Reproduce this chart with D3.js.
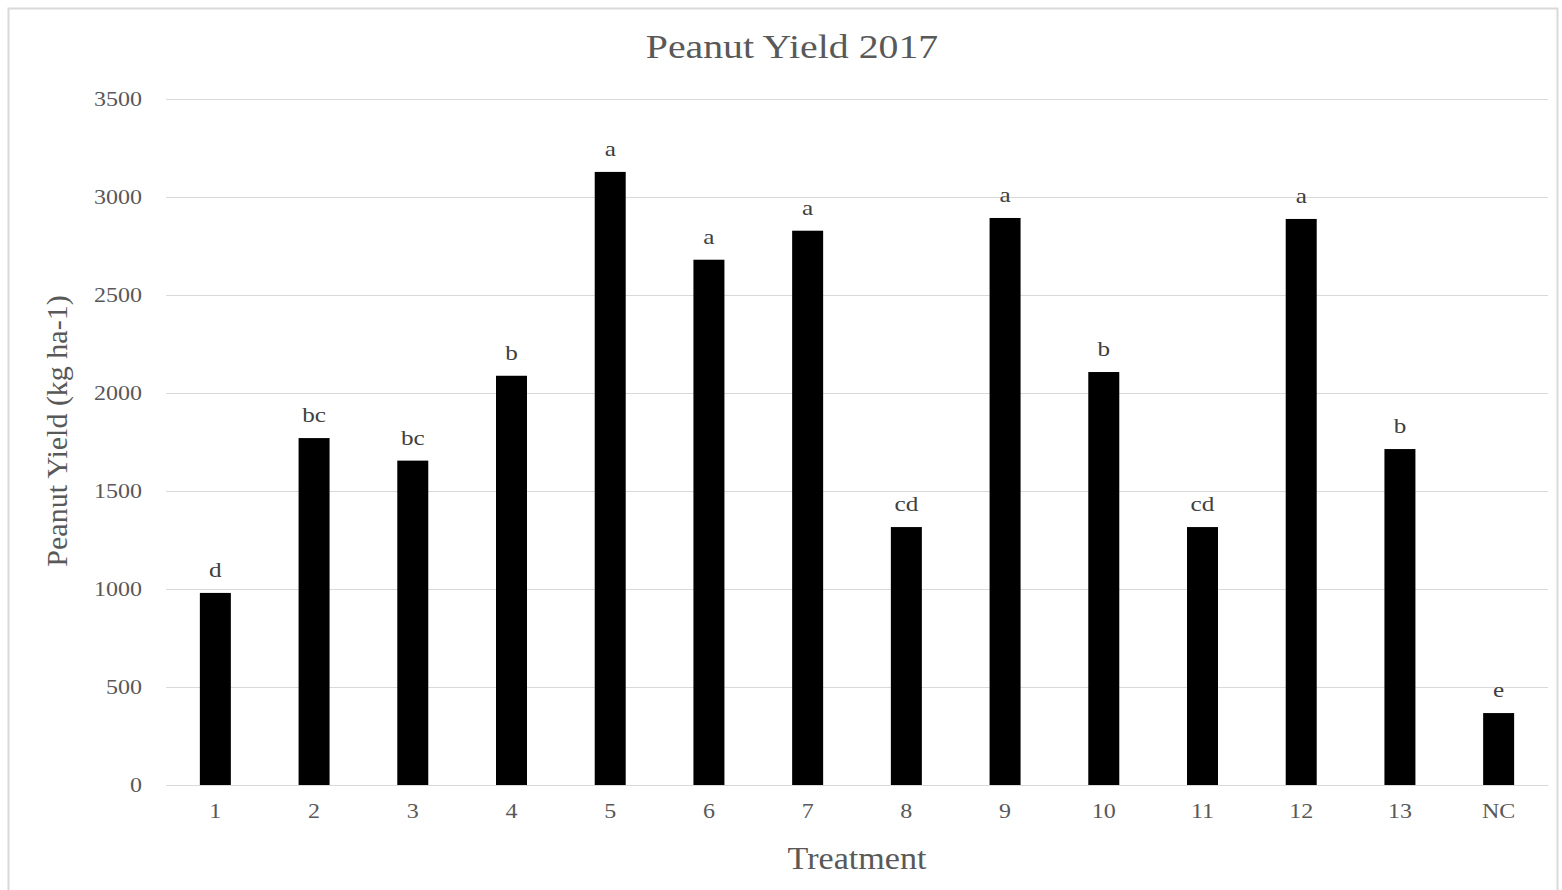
<!DOCTYPE html>
<html>
<head>
<meta charset="utf-8">
<script src="https://cdn.jsdelivr.net/npm/d3@7"></script>
<style>
  html, body { margin: 0; padding: 0; background: #fff; }
  svg { display: block; }
  text { font-family: "Liberation Serif", "Times New Roman", serif; }
</style>
</head>
<body>
<svg id="chart" width="1562" height="890"></svg>
<script>
// Peanut yield by treatment, 2017 (kg ha-1) with mean-separation letters
const treatments = ["1","2","3","4","5","6","7","8","9","10","11","12","13","NC"];
const yields     = [980, 1770, 1655, 2088, 3128, 2680, 2828, 1316, 2893, 2107, 1316, 2888, 1714, 367];
const letters    = ["d","bc","bc","b","a","a","a","cd","a","b","cd","a","b","e"];
const yTicks     = [0, 500, 1000, 1500, 2000, 2500, 3000, 3500];

const svg = d3.select("#chart");
const plot = { left: 166, right: 1548, top: 99, bottom: 785 };
const wide = 1.2;   // horizontal stretch of the serif lettering

// chart frame
svg.append("rect")
  .attr("x", 8.5).attr("y", 8.5)
  .attr("width", 1549).attr("height", 900)
  .attr("fill", "#fff")
  .attr("stroke", "#d9d9d9").attr("stroke-width", 2);

const x = d3.scaleBand()
  .domain(treatments)
  .range([plot.left, plot.right])
  .paddingInner(0.686)
  .paddingOuter(0.343);

const y = d3.scaleLinear()
  .domain([0, 3500])
  .range([plot.bottom, plot.top]);

// gridlines + y tick labels
const yAxis = d3.axisLeft(y)
  .tickValues(yTicks)
  .tickSize(-(plot.right - plot.left))
  .tickFormat(d3.format("d"));

const gy = svg.append("g")
  .attr("transform", `translate(${plot.left},0)`)
  .call(yAxis);
gy.select(".domain").remove();
gy.selectAll(".tick line").attr("stroke", "#d9d9d9").attr("stroke-width", 1);
gy.selectAll(".tick text")
  .attr("x", -24 / wide)
  .attr("transform", `scale(${wide},1)`)
  .attr("fill", "#595959")
  .style("font-size", "20px")
  .style("font-family", "'Liberation Serif', serif");

// x axis labels
const xAxis = d3.axisBottom(x).tickSize(0).tickPadding(19);
const gx = svg.append("g")
  .attr("transform", `translate(0,${plot.bottom})`)
  .call(xAxis);
gx.select(".domain").attr("stroke", "#d9d9d9");
gx.selectAll(".tick text")
  .attr("transform", `scale(${wide},1)`)
  .attr("fill", "#595959")
  .style("font-size", "20px")
  .style("font-family", "'Liberation Serif', serif");

// bars
svg.append("g").selectAll("rect")
  .data(treatments)
  .join("rect")
  .attr("x", d => x(d))
  .attr("width", x.bandwidth())
  .attr("y", (d, i) => y(yields[i]))
  .attr("height", (d, i) => y(0) - y(yields[i]))
  .attr("fill", "#000");

// significance letters
svg.append("g").selectAll("text")
  .data(treatments)
  .join("text")
  .attr("transform", (d, i) =>
    `translate(${x(d) + x.bandwidth() / 2},${y(yields[i]) - 16}) scale(${wide},1)`)
  .attr("text-anchor", "middle")
  .attr("fill", "#404040")
  .style("font-size", "21px")
  .text((d, i) => letters[i]);

// title
svg.append("text")
  .attr("transform", `translate(792,58) scale(1.17,1)`)
  .attr("text-anchor", "middle")
  .attr("fill", "#595959")
  .style("font-size", "34px")
  .text("Peanut Yield 2017");

// axis titles
svg.append("text")
  .attr("transform", `translate(${(plot.left + plot.right) / 2},869) scale(1.1,1)`)
  .attr("text-anchor", "middle")
  .attr("fill", "#595959")
  .style("font-size", "31px")
  .text("Treatment");

svg.append("text")
  .attr("transform", "translate(67,431) rotate(-90)")
  .attr("text-anchor", "middle")
  .attr("fill", "#595959")
  .style("font-size", "30px")
  .text("Peanut Yield (kg ha-1)");
</script>
</body>
</html>
